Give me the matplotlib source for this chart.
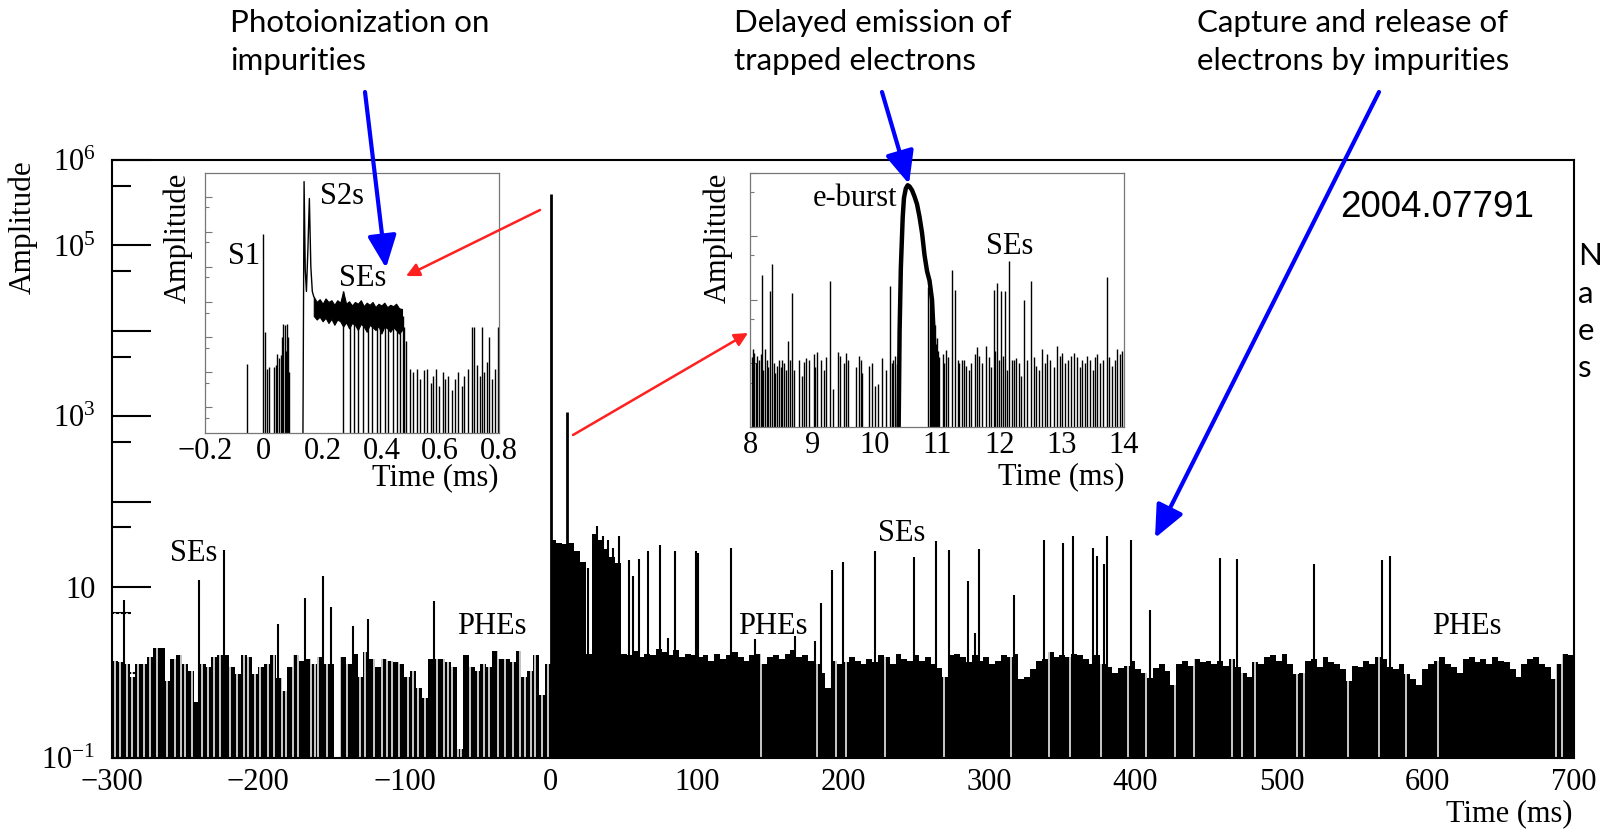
import numpy as np
import matplotlib
matplotlib.use('Agg')
import matplotlib.pyplot as plt
from matplotlib.ticker import FixedLocator, FixedFormatter, NullFormatter

plt.rcParams['font.family'] = ['Liberation Serif', 'DejaVu Serif']
plt.rcParams['mathtext.fontset'] = 'custom'
plt.rcParams['mathtext.rm'] = 'Liberation Serif'
plt.rcParams['mathtext.it'] = 'Liberation Serif:italic'

W, H = 1604, 833

# ---- main waveform (log10 amplitude, 4 ms bins) ----
pre_start, post_start, bin_w = -300, 0, 4
pre_log = [0.14, 0.12, 0.10, -0.05, 0.10, 0.10, 0.18, 0.29, 0.29, -0.10,
           0.16, 0.21, 0.10, 0.02, -0.34, 0.10, 0.06, 0.18, 0.21, 0.21,
           0.06, -0.02, 0.20, 0.18, -0.02, 0.06, 0.10, 0.21, -0.06, -0.22,
           0.06, 0.21, 0.14, 0.16, 0.10, 0.18, 0.10, 0.10, None, 0.18,
           0.10, 0.22, -0.05, 0.24, 0.16, 0.06, 0.16, 0.14, 0.12, 0.10,
           -0.05, 0.02, -0.18, -0.30, 0.16, 0.16, 0.16, 0.12, 0.06, -0.90,
           0.21, 0.06, 0.02, 0.10, 0.06, 0.25, 0.16, 0.16, 0.12, 0.25,
           -0.05, 0.02, 0.21, -0.26, 0.10]
post_log = [1.55, 1.52, 1.50, 1.52, 1.42, 1.30, 0.22, 1.62, 1.55, 1.45,
            1.35, 1.28, 0.22, 0.20, 0.25, 0.18, 0.22, 0.20, 0.28, 0.24,
            0.20, 0.26, 0.18, 0.22, 0.20, 0.18, 0.20, 0.14, 0.22, 0.16,
            0.20, 0.24, 0.18, 0.14, 0.20, 0.22, 0.10, 0.18, 0.20, 0.16,
            0.22, 0.26, 0.18, 0.20, 0.14, 0.10, 0.00, -0.18, 0.14, 0.10,
            0.12, 0.18, 0.14, 0.10, 0.16, 0.12, 0.20, 0.18, 0.10, 0.22,
            0.16, 0.14, 0.20, 0.14, 0.18, 0.10, 0.05, -0.05, 0.20, 0.22,
            0.18, 0.12, 0.20, 0.14, 0.18, 0.10, 0.14, 0.20, 0.18, 0.22,
            -0.08, -0.05, 0.04, 0.14, 0.16, 0.24, 0.18, 0.20, 0.18, 0.22,
            0.20, 0.16, 0.10, 0.20, 0.10, 0.06, 0.00, 0.05, 0.08, 0.14,
            0.04, 0.00, -0.06, 0.05, 0.10, 0.02, -0.15, 0.10, 0.14, 0.08,
            0.16, 0.12, 0.14, 0.10, 0.14, 0.08, 0.16, 0.06, 0.00, -0.05,
            0.12, 0.10, 0.18, 0.20, 0.14, 0.22, 0.10, -0.02, 0.00, 0.14,
            0.16, 0.06, 0.18, 0.12, 0.10, 0.04, -0.10, 0.08, 0.06, 0.14,
            0.10, 0.18, 0.16, 0.06, 0.04, 0.10, -0.02, -0.08, -0.15, 0.04,
            0.10, 0.14, 0.18, 0.10, 0.06, 0.00, 0.16, 0.18, 0.12, 0.16,
            0.10, 0.18, 0.14, 0.12, 0.04, -0.05, 0.10, 0.16, 0.18, 0.10,
            0.06, -0.08, 0.10, 0.22, 0.20]

# single-electron spikes (time ms, log10 amplitude)
se_t = [-291.5, -240.5, -223.4, -186.2, -167.7, -155.7, -150.2, -134.9, -125.1, -80.0,
        25.7, 32.0, 36.0, 39.0, 42.5, 46.7, 53.5, 56.5, 60.4, 66.7, 74.7, 80.0, 85.0,
        99.3, 101.0, 123.7, 139.6, 167.4, 180.6, 185.2, 192.5, 200.2, 221.6, 248.5,
        263.3, 272.2, 285.4, 290.0, 293.0, 317.3, 337.8, 350.5, 357.6, 370.8, 373.5,
        378.7, 380.4, 396.8, 409.8, 458.1, 469.6, 522.0, 568.6, 574.0]
se_log = [0.85, 1.08, 1.44, 0.57, 0.87, 1.13, 0.77, 0.55, 0.63, 0.84,
          1.22, 1.72, 1.60, 1.55, 1.46, 1.60, 1.32, 1.13, 1.33, 1.42, 1.49, 0.41, 1.42,
          1.42, 1.40, 1.46, 0.39, 0.43, 0.37, 0.81, 1.20, 1.29, 1.42, 1.35,
          1.54, 1.43, 1.07, 0.46, 1.45, 0.91, 1.55, 1.52, 1.60, 1.46, 1.37,
          1.27, 1.60, 1.55, 0.73, 1.34, 1.33, 1.27, 1.32, 1.37]
# S1/S2 peak and the delayed e-burst
peak_t = [0.0, 11.0]
peak_log = [5.6, 3.05]
# empty bins (white slits in the noise)
gap_t = [-297.9, -294.5, -290.0, -286.5, -282.0, -278.0, -274.0, -269.0, -262.6, -257.0,
         -253.0, -250.1, -245.0, -238.7, -234.1, -230.0, -226.0, -219.0, -214.7, -210.0,
         -206.7, -202.0, -198.8, -193.1, -189.0, -184.0, -180.8, -176.0, -172.5, -164.0,
         -161.0, -158.9, -153.0, -146.5, -144.0, -139.0, -130.4, -127.0, -121.0, -115.6,
         -112.0, -108.7, -104.0, -97.3, -94.0, -91.0, -85.9, -78.0, -73.0, -70.5,
         -67.7, -63.0, -61.0, -55.0, -49.4, -45.5, -42.0, -35.8, -31.0, -26.0,
         -21.0, -17.5, -13.5, -10.7, -6.0, -1.6,
         143.7, 182.5, 195.0, 202.0, 229.0, 269.4, 314.6, 340.8, 355.1, 376.2,
         394.6, 407.4, 427.0, 440.0, 466.2, 472.8, 482.1, 510.3, 515.2, 545.1,
         566.7, 585.0, 607.1, 688.0, 691.7]

# ---- inset 1: -0.2 .. 0.8 ms ----
in1_t = [-0.057, -0.002, 0.004, 0.012, 0.019, 0.035, 0.040, 0.046, 0.053, 0.057,
         0.061, 0.066, 0.072, 0.076, 0.078, 0.083, 0.087,
         0.270, 0.293, 0.307, 0.322, 0.339, 0.353, 0.368, 0.384, 0.396, 0.412,
         0.424, 0.438, 0.452, 0.463, 0.472,
         0.477, 0.484, 0.497, 0.509, 0.520, 0.531, 0.545, 0.556, 0.568, 0.577,
         0.586, 0.597, 0.608, 0.617, 0.628, 0.639, 0.650, 0.662, 0.673, 0.682,
         0.696, 0.707, 0.715, 0.724, 0.735, 0.741, 0.750, 0.758, 0.767, 0.775,
         0.786, 0.798]
in1_log = [1.24, 4.95, 2.14, 1.10, 1.14, 1.14, 1.20, 1.53, 1.40, 1.50,
           2.00, 2.38, 2.33, 1.60, 2.38, 2.00, 1.00,
           3.30, 2.80, 2.70, 2.90, 2.75, 2.85, 2.70, 2.90, 2.80, 2.70,
           2.85, 2.75, 2.80, 2.70, 2.60,
           2.29, 1.90, 1.10, 1.00, 1.10, 0.80, 1.05, 1.10, 0.70, 0.90,
           1.10, 0.60, 1.00, 0.80, 0.90, 0.50, 0.80, 1.00, 0.60, 0.90,
           1.10, 2.30, 2.30, 1.20, 0.90, 2.30, 1.00, 1.30, 2.00, 0.80,
           1.10, 2.30]
# S2 pulse outline
s2_t = [0.133, 0.137, 0.141, 0.145, 0.150, 0.155, 0.160, 0.165, 0.170]
s2_log = [-1.0, 6.43, 3.9, 3.3, 4.5, 5.95, 4.0, 3.3, 3.15]
# SE pile-up band after S2 (upper / lower envelope)
band_t = [0.17, 0.18, 0.19, 0.20, 0.21, 0.22, 0.23, 0.24, 0.25, 0.26,
          0.27, 0.28, 0.29, 0.30, 0.31, 0.32, 0.33, 0.34, 0.35, 0.36,
          0.37, 0.38, 0.39, 0.40, 0.41, 0.42, 0.43, 0.44, 0.45, 0.46, 0.47]
band_hi = [3.15, 3.00, 3.08, 2.95, 3.10, 3.00, 3.05, 2.92, 3.05, 2.98,
           3.30, 2.95, 3.02, 2.90, 3.00, 2.95, 3.05, 2.88, 2.98, 2.92,
           3.00, 2.85, 2.95, 2.90, 2.98, 2.85, 2.92, 2.88, 2.95, 2.82, 2.80]
band_lo = [2.60, 2.50, 2.58, 2.45, 2.55, 2.40, 2.52, 2.35, 2.50, 2.45,
           2.30, 2.42, 2.25, 2.40, 2.35, 2.20, 2.38, 2.30, 2.15, 2.35,
           2.28, 2.20, 2.32, 2.10, 2.30, 2.25, 2.15, 2.28, 2.20, 2.10, 2.20]

# ---- inset 2: 8 .. 14 ms ----
in2_t = [8.03, 8.05, 8.07, 8.10, 8.12, 8.15, 8.17, 8.19, 8.21, 8.24, 8.27, 8.29, 8.32, 8.35,
         8.38, 8.40, 8.43, 8.46, 8.49, 8.52, 8.55, 8.58, 8.61, 8.64, 8.67, 8.71, 8.78, 8.83,
         8.87, 8.90, 8.95, 9.02, 9.05, 9.08, 9.14, 9.18, 9.22, 9.28, 9.33, 9.41, 9.45, 9.50,
         9.54, 9.58, 9.70, 9.75, 9.78, 9.80, 9.91, 9.95, 10.01, 10.05, 10.12, 10.18, 10.24,
         10.28, 10.30, 10.32, 10.36, 10.86, 10.88, 10.90, 10.92, 10.94, 10.96, 10.98, 11.00,
         11.02, 11.04, 11.10, 11.12, 11.15, 11.18, 11.24, 11.29, 11.33, 11.36, 11.40, 11.44,
         11.47, 11.52, 11.55, 11.61, 11.64, 11.68, 11.72, 11.79, 11.83, 11.86, 11.91, 11.93,
         11.96, 12.00, 12.03, 12.06, 12.09, 12.12, 12.16, 12.21, 12.24, 12.27, 12.31, 12.35,
         12.40, 12.45, 12.51, 12.55, 12.59, 12.63, 12.69, 12.73, 12.77, 12.82, 12.87, 12.93,
         12.97, 13.01, 13.05, 13.10, 13.15, 13.20, 13.25, 13.29, 13.33, 13.37, 13.41, 13.45,
         13.50, 13.53, 13.57, 13.62, 13.66, 13.72, 13.76, 13.81, 13.85, 13.89, 13.93, 13.97]
in2_log = [0.10, 0.22, 0.17, 0.00, 0.12, 0.05, 0.15, 1.39, -0.10, 0.22, 0.05, -0.05, 1.13, 1.56,
           0.00, -0.15, -0.04, 0.05, -0.05, 0.06, 0.00, -0.10, 0.35, 0.05, 1.11, -0.10, 0.06, -0.20,
           0.02, 0.09, 0.06, 0.15, -0.05, 0.18, 0.06, -0.10, 0.10, 1.29, -0.41, 0.18, 0.12, 0.00,
           0.17, 0.05, -0.05, 0.11, 0.06, -0.15, -0.04, 0.00, -0.35, -0.33, 0.09, -0.10, 1.21,
           0.00, 0.05, 0.12, -0.01, 1.20, 1.30, 1.00, 0.80, 0.50, 0.60, 0.30, 0.40,
           0.20, 0.10, 0.15, 0.00, 0.21, 0.10, 1.47, 1.16, 0.05, 0.00, 0.06, 0.05,
           -0.04, -0.10, 0.00, 0.14, 0.25, 0.12, 0.00, 0.27, 0.10, -0.05, 1.16, 0.20,
           1.26, 0.05, 1.13, 0.12, 1.13, -0.10, 1.61, 0.06, 0.05, 0.09, 0.00, -0.20,
           1.00, 0.05, 1.29, 0.10, -0.04, -0.10, 0.22, 0.00, 0.14, 0.05, -0.05, 0.27,
           0.12, 0.17, 0.00, 0.05, 0.12, 0.17, 0.10, -0.05, 0.06, 0.00, 0.12, 0.05,
           -0.10, 0.10, 0.14, 0.00, 0.05, 1.35, 0.10, -0.04, 0.05, 0.22, 0.15, 0.20]
burst_t = [10.38, 10.40, 10.42, 10.45, 10.47, 10.50, 10.53, 10.56, 10.60, 10.64,
           10.68, 10.72, 10.76, 10.80, 10.84, 10.88, 10.92, 10.95, 10.98]
burst_log = [-1.5, 0.5, 1.5, 2.3, 2.6, 2.75, 2.8, 2.78, 2.72, 2.62,
             2.5, 2.3, 2.05, 1.7, 1.45, 1.3, 1.0, 0.4, -1.5]


def amp(vals):
    return np.array([10.0 ** v if v is not None else 1e-3 for v in vals])


fig = plt.figure(figsize=(W / 100, H / 100), dpi=100)

# main panel
ax = fig.add_axes([112 / W, 1 - 758 / H, (1574 - 112) / W, (758 - 160) / H])
pre_edges = pre_start + bin_w * np.arange(len(pre_log) + 1)
post_edges = post_start + bin_w * np.arange(len(post_log) + 1)
ax.stairs(amp(pre_log), pre_edges, baseline=0.01, fill=True, color='black', lw=0)
ax.stairs(amp(post_log), post_edges, baseline=0.01, fill=True, color='black', lw=0)
ax.vlines(gap_t, 0.01, 5, color='white', lw=1.1)
ax.vlines(se_t, 0.01, 10.0 ** np.array(se_log), color='black', lw=1.5)
ax.vlines(peak_t, 0.01, 10.0 ** np.array(peak_log), color='black', lw=2)
ax.set_yscale('log')
ax.set_xlim(-300, 700)
ax.set_ylim(0.1, 1e6)
ylab = {-1: '$10^{-1}$', 1: '10', 3: '$10^{3}$', 5: '$10^{5}$', 6: '$10^{6}$'}
ax.yaxis.set_major_locator(FixedLocator([10.0 ** k for k in range(-1, 7)]))
ax.yaxis.set_major_formatter(FixedFormatter([ylab.get(k, '') for k in range(-1, 7)]))
ax.yaxis.set_minor_locator(FixedLocator([5 * 10.0 ** k for k in range(-1, 6)]))
ax.yaxis.set_minor_formatter(NullFormatter())
ax.xaxis.set_major_locator(FixedLocator(list(range(-300, 701, 100))))
ax.xaxis.set_major_formatter(FixedFormatter([str(v).replace('-', '\u2212') for v in range(-300, 701, 100)]))
ax.tick_params(axis='y', which='major', direction='in', length=28, width=1.5, labelsize=22, pad=12)
ax.tick_params(axis='y', which='minor', direction='in', length=14, width=1.5)
ax.tick_params(axis='x', length=0, labelsize=22, pad=7)
for s in ax.spines.values():
    s.set_linewidth(1.5)
ax.text(-244, 24.5, 'SEs', ha='center', va='center', fontsize=22)
ax.text(240, 42, 'SEs', ha='center', va='center', fontsize=22)
for x in [-40, 152, 627]:
    ax.text(x, 3.5, 'PHEs', ha='center', va='center', fontsize=22)


def inset_axes_style(a, majors, minors):
    a.set_yscale('log')
    a.yaxis.set_major_locator(FixedLocator(majors))
    a.yaxis.set_minor_locator(FixedLocator(minors))
    a.yaxis.set_major_formatter(NullFormatter())
    a.yaxis.set_minor_formatter(NullFormatter())
    a.tick_params(axis='y', which='major', direction='in', length=5, width=0.8, color='#777777')
    a.tick_params(axis='y', which='minor', direction='in', length=3, width=0.8, color='#777777')
    a.tick_params(axis='x', length=0, labelsize=22, pad=3)
    for s in a.spines.values():
        s.set_linewidth(0.9)
        s.set_color('#777777')


# inset 1
ax1 = fig.add_axes([205 / W, 1 - 432.5 / H, 294 / W, 260 / H])
ax1.vlines(in1_t, 1e-3, 10.0 ** np.array(in1_log), color='black', lw=1.0)
ax1.plot(s2_t, 10.0 ** np.array(s2_log), color='black', lw=1.0)
ax1.fill_between(band_t, 10.0 ** np.array(band_lo), 10.0 ** np.array(band_hi),
                 color='black', lw=0.8)
inset_axes_style(ax1, [10.0 ** k for k in range(0, 7)], [5 * 10.0 ** k for k in range(-1, 6)])
ax1.set_xlim(-0.2, 0.8)
ax1.set_ylim(10 ** -0.72, 10 ** 6.69)
ax1.xaxis.set_major_locator(FixedLocator([-0.2, 0, 0.2, 0.4, 0.6, 0.8]))
ax1.xaxis.set_major_formatter(FixedFormatter(['\u22120.2', '0', '0.2', '0.4', '0.6', '0.8']))
ax1.text(-0.067, 10 ** 4.29, 'S1', ha='center', va='center', fontsize=22)
ax1.text(0.265, 10 ** 6.0, 'S2s', ha='center', va='center', fontsize=22)
ax1.text(0.337, 10 ** 3.68, 'SEs', ha='center', va='center', fontsize=22)

# inset 2
ax2 = fig.add_axes([750 / W, 1 - 427 / H, 374 / W, 254.5 / H])
ax2.vlines(in2_t, 1e-3, 10.0 ** np.array(in2_log), color='black', lw=1.0)
ax2.plot(burst_t, 10.0 ** np.array(burst_log), color='black', lw=3.2)
inset_axes_style(ax2, [10.0 ** k for k in range(-1, 4)], [5 * 10.0 ** k for k in range(-1, 3)])
ax2.set_xlim(8, 14)
ax2.set_ylim(0.1, 1000)
ax2.xaxis.set_major_locator(FixedLocator(list(range(8, 15))))
ax2.xaxis.set_major_formatter(FixedFormatter([str(v) for v in range(8, 15)]))
ax2.text(9.68, 10 ** 2.59, 'e-burst', ha='center', va='center', fontsize=22)
ax2.text(12.16, 10 ** 1.83, 'SEs', ha='center', va='center', fontsize=22)

# overlay in figure pixels for titles, notes and arrows
ov = fig.add_axes([0, 0, 1, 1])
ov.set_xlim(0, W)
ov.set_ylim(H, 0)
ov.axis('off')

ov.text(23, 160, 'Amplitude', rotation=90, ha='center', va='top', fontsize=22.5)
ov.text(178, 173, 'Amplitude', rotation=90, ha='center', va='top', fontsize=22)
ov.text(718, 173, 'Amplitude', rotation=90, ha='center', va='top', fontsize=22)
ov.text(1573, 814, 'Time (ms)', ha='right', va='center', fontsize=22)
ov.text(498, 478, 'Time (ms)', ha='right', va='center', fontsize=22)
ov.text(1124, 477, 'Time (ms)', ha='right', va='center', fontsize=22)

note_font = dict(fontsize=22.5, family=['Lato', 'DejaVu Sans'], va='center', ha='left')
ov.text(230, 23, 'Photoionization on', **note_font)
ov.text(230, 61, 'impurities', **note_font)
ov.text(734, 23, 'Delayed emission of', **note_font)
ov.text(734, 61, 'trapped electrons', **note_font)
ov.text(1197, 23, 'Capture and release of', **note_font)
ov.text(1197, 61, 'electrons by impurities', **note_font)
# side note, only its first letters fall inside the picture
for y, letter in zip([256, 294, 331, 368], ['N', 'a', 'e', 's']):
    ov.text(1578, y, letter, **note_font)
ov.text(1340, 207, '2004.07791', fontsize=26.5, family=['Liberation Sans'], va='center', ha='left')

blue = dict(arrowstyle='-|>,head_length=0.45,head_width=0.2', color='#0000ff', lw=3,
            mutation_scale=44, shrinkA=0, shrinkB=0)
red = dict(arrowstyle='-|>,head_length=0.5,head_width=0.25', color='#ff2020', lw=1.8,
           mutation_scale=16, shrinkA=0, shrinkB=0)
ov.annotate('', xy=(386, 268), xytext=(365, 92), arrowprops=blue)
ov.annotate('', xy=(909, 184), xytext=(882, 92), arrowprops=blue)
ov.annotate('', xy=(1155, 538), xytext=(1379, 92), arrowprops=blue)
ov.annotate('', xy=(406, 276), xytext=(540, 210), arrowprops=red)
ov.annotate('', xy=(748, 333), xytext=(573, 435), arrowprops=red)

fig.savefig('out.png', dpi=100)
